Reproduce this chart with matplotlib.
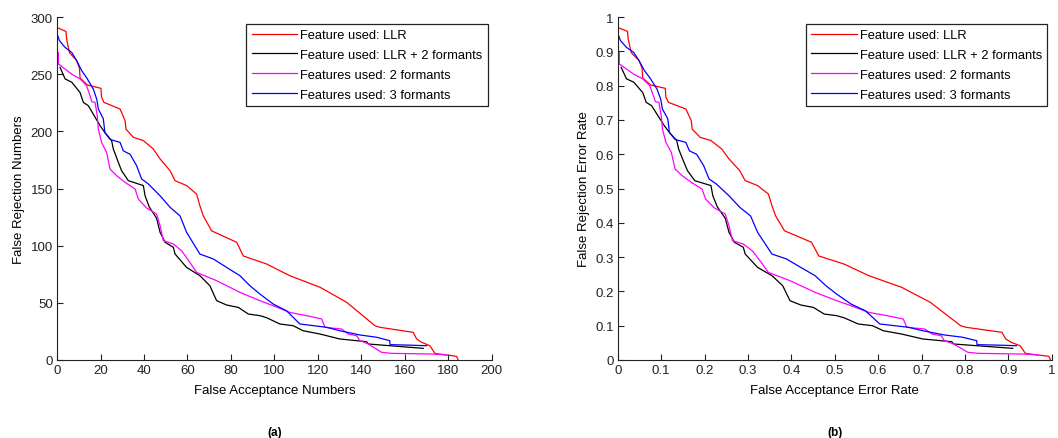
import matplotlib.pyplot as plt
import numpy as np

plt.rcParams['font.family'] = ['Liberation Sans', 'DejaVu Sans']

"""
data read off the curves (counts)
"""
labels = ['Feature used: LLR', 'Feature used: LLR + 2 formants',
          'Features used: 2 formants', 'Features used: 3 formants']
colors = ['#ff0000', '#000000', '#ff00ff', '#0000ff']

llr_fa = [0.5, 4.1, 4.4, 5.7, 9, 10.3, 10.6, 14, 20.2, 20.5, 21.6, 29, 31.3, 31.7,
          35.1, 39.7, 44.3, 47.4, 52, 54.3, 59.6, 64.2, 65.7, 67.3, 71.1, 82.6, 85.7,
          96.4, 107, 121, 133.2, 146.2, 148.5, 163.8, 165.4, 167.7, 171.5, 173.8, 176,
          183.8, 184.5]
llr_fr = [290.5, 287.5, 281, 269, 262, 255.5, 246.7, 240.6, 237.7, 229.8, 225.4,
          219.6, 209.4, 202, 194.8, 192, 184.6, 175.9, 165.6, 156.9, 152.6, 145.2, 135,
          126, 113, 103, 91, 84, 73.8, 63.6, 50.5, 30, 28.6, 24.2, 18.4, 15.5, 12.5,
          5.8, 5.2, 3.2, 0]

llr2f_fa = [1.4, 3.7, 6.8, 10.6, 12.1, 14.4, 16.7, 19.8, 22, 25.1, 25.9, 28.2, 29.7,
            32.8, 39.7, 40.5, 42.4, 45.8, 47.4, 49.7, 53.5, 54.3, 59.6, 65.7, 70.3,
            73.4, 78, 83.4, 88, 93.3, 96.4, 102.5, 108.6, 113.2, 121, 130, 142.4,
            143.2, 153, 168.4]
llr2f_fr = [256, 246, 243, 234, 225.4, 222.5, 215, 205, 199, 192, 184.6, 172.9, 165.6,
            156.9, 152.6, 143.7, 134, 124, 111.7, 103, 98.6, 92.7, 81, 73.8, 65, 51.9,
            48.1, 46, 40.2, 38.8, 37, 31.5, 30, 25.6, 22.7, 18.4, 16, 14, 12.5, 10.2]

f2_fa = [0.6, 0.6, 3.7, 6.8, 10.6, 13.6, 15.2, 16, 17.5, 18.5, 19, 20.5, 22.8, 24.4,
         27.4, 31.3, 35.9, 37.4, 41.2, 45.8, 47.4, 48.9, 53.5, 57.3, 61.1, 64.2, 73.4,
         84.1, 93.3, 99.4, 107.1, 114.8, 121.7, 123.2, 130.9, 134, 137.8, 139.3, 143.2,
         149.3, 153.9, 173, 179.2]
f2_fr = [269, 259, 254.6, 250, 246, 240, 231, 226, 225.4, 213.8, 202, 190.4, 181.6,
         167, 161.3, 155.4, 149.6, 140.8, 133, 127.7, 117.5, 104.4, 101.5, 95.6, 85.5,
         76.6, 69.4, 59.2, 51.9, 47.5, 41.6, 38.8, 35.9, 28.6, 27.1, 22.7, 21.3, 16.9,
         14, 6.7, 5.8, 5.2, 4.4]

f3_fa = [0.1, 1.1, 3.7, 6.8, 9, 11.4, 13.6, 16.7, 18.3, 19, 21.3, 22, 24.4, 29, 30.5,
         33.6, 36.6, 38.9, 42, 47.4, 52, 56.6, 59.6, 65.7, 71.9, 78, 84.1, 88.7, 93.3,
         99.4, 105.6, 111.7, 124, 130, 139.3, 147, 153, 153.2, 162, 170]
f3_fr = [285, 279.5, 273.5, 269, 262, 253, 247, 237, 228, 219.6, 211, 199, 193, 190.4,
         183, 180, 170, 158.4, 154, 143.7, 133.6, 126, 111.7, 92.7, 88.4, 81, 73.8, 65,
         57.7, 49, 43, 31.5, 28.6, 25.6, 21.9, 19.9, 16.9, 13.4, 13, 12.5]

# totals used to turn counts into rates
n_impostor = 185.0
n_genuine = 300.0

curves = [(llr_fa, llr_fr), (llr2f_fa, llr2f_fr), (f2_fa, f2_fr), (f3_fa, f3_fr)]

"""
figure
"""
fig = plt.figure(figsize=(10.58, 4.39), dpi=100)
ax1 = fig.add_axes([0.0539, 0.1777, 0.411, 0.781])
ax2 = fig.add_axes([0.584, 0.1777, 0.410, 0.781])


def style(ax):
    for s in ['top', 'right']:
        ax.spines[s].set_visible(False)
    for s in ['left', 'bottom']:
        ax.spines[s].set_linewidth(0.8)
        ax.spines[s].set_color('#222222')
    ax.tick_params(direction='in', length=4, width=0.8, labelsize=9.5,
                   colors='#222222', pad=3)
    leg = ax.legend(loc='upper right', bbox_to_anchor=(0.99, 0.98), fontsize=9.3,
                    fancybox=False, framealpha=1, edgecolor='#222222',
                    handlelength=3.5, handletextpad=0.25, borderpad=0.4,
                    labelspacing=0.6, borderaxespad=0)
    leg.get_frame().set_linewidth(0.9)


for (fa, fr), c, lab in zip(curves, colors, labels):
    ax1.plot(fa, fr, color=c, lw=0.9, label=lab)
ax1.set_xlim(0, 200)
ax1.set_ylim(0, 300)
ax1.set_xticks(np.arange(0, 201, 20))
ax1.set_yticks(np.arange(0, 301, 50))
ax1.set_xlabel('False Acceptance Numbers', fontsize=9.5, labelpad=6)
ax1.set_ylabel('False Rejection Numbers', fontsize=9.5, labelpad=4)
style(ax1)

for (fa, fr), c, lab in zip(curves, colors, labels):
    ax2.plot(np.array(fa) / n_impostor, np.array(fr) / n_genuine, color=c, lw=0.9,
             label=lab)
ax2.set_xlim(0, 1)
ax2.set_ylim(0, 1)
ticks = np.round(np.arange(0, 1.01, 0.1), 1)
ax2.set_xticks(ticks)
ax2.set_yticks(ticks)
ax2.set_xticklabels(['0'] + ['%g' % t for t in ticks[1:-1]] + ['1'])
ax2.set_yticklabels(['0'] + ['%g' % t for t in ticks[1:-1]] + ['1'])
ax2.set_xlabel('False Acceptance Error Rate', fontsize=9.5, labelpad=6)
ax2.set_ylabel('False Rejection Error Rate', fontsize=9.5, labelpad=4)
style(ax2)

fig.text(0.2595, 0.0, '(a)', ha='center', va='bottom', fontsize=8.5,
         fontweight='bold')
fig.text(0.789, 0.0, '(b)', ha='center', va='bottom', fontsize=8.5,
         fontweight='bold')

fig.savefig('out.png', dpi=100)
